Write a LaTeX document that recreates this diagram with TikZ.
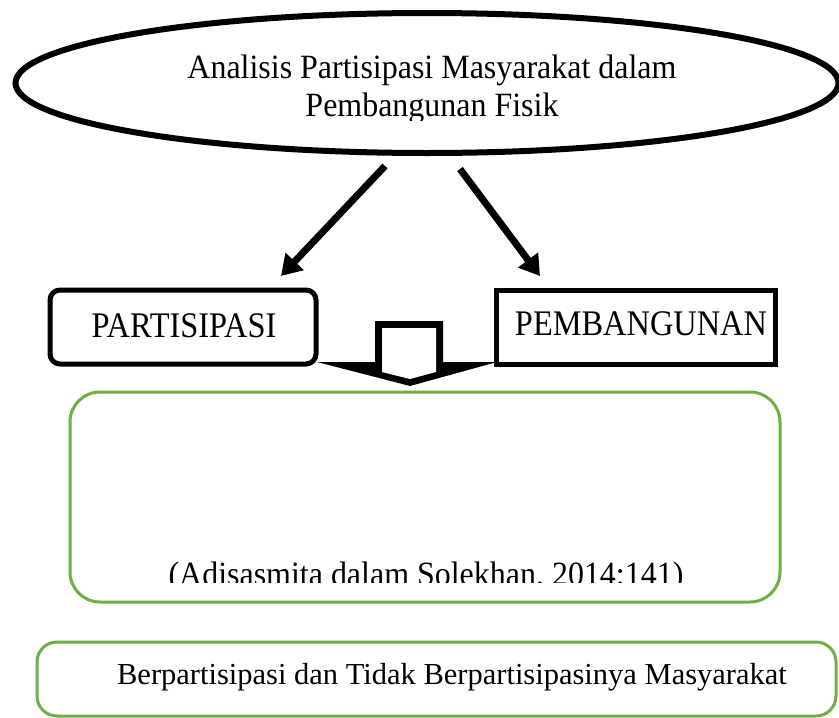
\documentclass[tikz,border=0pt]{standalone}
\usepackage{fontspec}
\setmainfont{Liberation Serif}
\newfontfamily\fa{Liberation Serif}[FakeStretch=0.94]
\newfontfamily\fb{Liberation Serif}[FakeStretch=0.90]
\usetikzlibrary{shapes.geometric,arrows.meta}
\definecolor{gr}{RGB}{112,173,71}
\tikzset{
  lbla/.style={inner sep=0pt, font=\fa\fontsize{34}{38}\selectfont, anchor=base},
  lblb/.style={inner sep=0pt, font=\fb\fontsize{36}{40}\selectfont, anchor=base},
  lblc/.style={inner sep=0pt, font=\fontsize{30.5}{34}\selectfont, anchor=base},
  bigarrow/.style={line width=7pt, -{Triangle[length=20pt,width=24pt]}},
  blackbox/.style={draw, line width=5pt},
  greenbox/.style={draw=gr, line width=3pt},
}
\begin{document}
\begin{tikzpicture}[x=1pt,y=-1pt]
\useasboundingbox (0,0) rectangle (839,718);
\clip (0,0) rectangle (839,718);
% ellipse
\node[ellipse, draw, line width=6pt, minimum width=823pt, minimum height=140pt, inner sep=0pt] (ell) at (427,83) {};
\begin{scope}
\clip (0,0) rectangle (839,120);
\node[lbla] (t1) at (432,78) {Analisis Partisipasi Masyarakat dalam};
\node[lbla] (t2) at (432,116) {Pembangunan Fisik};
\end{scope}
% arrows
\coordinate (a1s) at (385,166);
\coordinate (a1e) at (281,276);
\coordinate (a2s) at (460,169);
\coordinate (a2e) at (540,276);
\draw[bigarrow] (a1s) -- (a1e);
\draw[bigarrow] (a2s) -- (a2e);
% boxes
\draw[blackbox, rounded corners=10pt] (50,290) rectangle (316,364);
\node[lblb] (part) at (184,337) {PARTISIPASI};
\draw[blackbox] (496,290) rectangle (775,364);
\node[lblb] (pemb) at (641,335) {PEMBANGUNAN};
% block arrow
\fill (375,321) -- (443,321) -- (443,362) -- (497,362) -- (410,386) -- (317,362) -- (375,362) -- cycle;
\fill[white] (382,328) -- (436,328) -- (436,372) -- (410,379) -- (382,372) -- cycle;
% green box 1
\draw[greenbox, rounded corners=30pt] (70,392) rectangle (780,602);
\begin{scope}
\clip (0,0) rectangle (839,582);
\node[lbla] (cite) at (426,585) {(Adisasmita dalam Solekhan, 2014:141)};
\end{scope}
% green box 2
\draw[greenbox, rounded corners=20pt] (37,642) rectangle (836,716);
\node[lblc] (res) at (452,684) {Berpartisipasi dan Tidak Berpartisipasinya Masyarakat};
\end{tikzpicture}
\end{document}
